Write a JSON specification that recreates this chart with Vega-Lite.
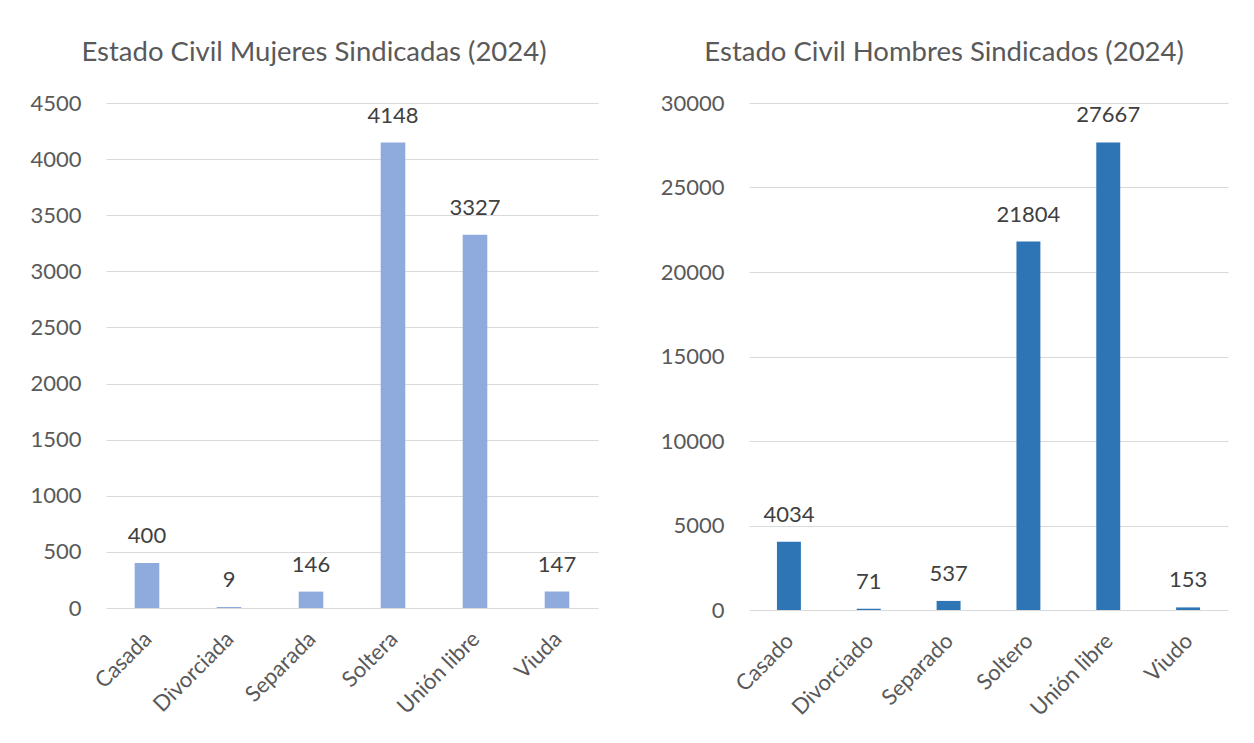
{
  "$schema": "https://vega.github.io/schema/vega-lite/v6.json",
  "background": "white",
  "padding": {"left": 29, "top": 38, "right": 10, "bottom": 5},
  "spacing": 62,
  "config": {
    "font": "Lato",
    "view": {"stroke": null},
    "title": {"font": "Lato", "fontSize": 27.5, "fontWeight": "normal", "color": "#595959", "anchor": "middle", "frame": "bounds", "offset": 26, "baseline": "alphabetic"},
    "axis": {"labelFont": "Lato", "labelFontSize": 22, "labelColor": "#595959", "ticks": false, "title": null, "gridColor": "#D9D9D9", "domainColor": "#D9D9D9"}
  },
  "datasets": {
    "mujeres": [
      {"estado": "Casada", "n": 400},
      {"estado": "Divorciada", "n": 9},
      {"estado": "Separada", "n": 146},
      {"estado": "Soltera", "n": 4148},
      {"estado": "Unión libre", "n": 3327},
      {"estado": "Viuda", "n": 147}
    ],
    "hombres": [
      {"estado": "Casado", "n": 4034},
      {"estado": "Divorciado", "n": 71},
      {"estado": "Separado", "n": 537},
      {"estado": "Soltero", "n": 21804},
      {"estado": "Unión libre", "n": 27667},
      {"estado": "Viudo", "n": 153}
    ]
  },
  "hconcat": [
    {
      "title": "Estado Civil Mujeres Sindicadas (2024)",
      "width": 492,
      "height": 505,
      "data": {"name": "mujeres"},
      "encoding": {
        "x": {"field": "estado", "type": "nominal", "sort": null, "scale": {"paddingInner": 0.7, "paddingOuter": 0.35},
              "axis": {"labelAngle": -45, "labelPadding": 20, "labelFontSize": 22, "labelOffset": -6, "domain": false, "grid": false}},
        "y": {"field": "n", "type": "quantitative", "scale": {"domain": [0, 4500], "nice": false},
              "axis": {"values": [0, 500, 1000, 1500, 2000, 2500, 3000, 3500, 4000, 4500], "format": "d", "domain": false, "labelPadding": 25}}
      },
      "layer": [
        {"mark": {"type": "bar", "color": "#8FAADC"}},
        {"mark": {"type": "text", "baseline": "middle", "dy": -27, "fontSize": 22, "color": "#404040", "font": "Lato"},
         "encoding": {"text": {"field": "n", "type": "quantitative", "format": "d"}}}
      ]
    },
    {
      "title": "Estado Civil Hombres Sindicados (2024)",
      "width": 479,
      "height": 507,
      "data": {"name": "hombres"},
      "encoding": {
        "x": {"field": "estado", "type": "nominal", "sort": null, "scale": {"paddingInner": 0.7, "paddingOuter": 0.35},
              "axis": {"labelAngle": -45, "labelPadding": 20, "labelFontSize": 22, "labelOffset": -6, "domain": false, "grid": false}},
        "y": {"field": "n", "type": "quantitative", "scale": {"domain": [0, 30000], "nice": false},
              "axis": {"values": [0, 5000, 10000, 15000, 20000, 25000, 30000], "format": "d", "domain": false, "labelPadding": 25}}
      },
      "layer": [
        {"mark": {"type": "bar", "color": "#2E75B6"}},
        {"mark": {"type": "text", "baseline": "middle", "dy": -27, "fontSize": 22, "color": "#404040", "font": "Lato"},
         "encoding": {"text": {"field": "n", "type": "quantitative", "format": "d"}}}
      ]
    }
  ]
}
